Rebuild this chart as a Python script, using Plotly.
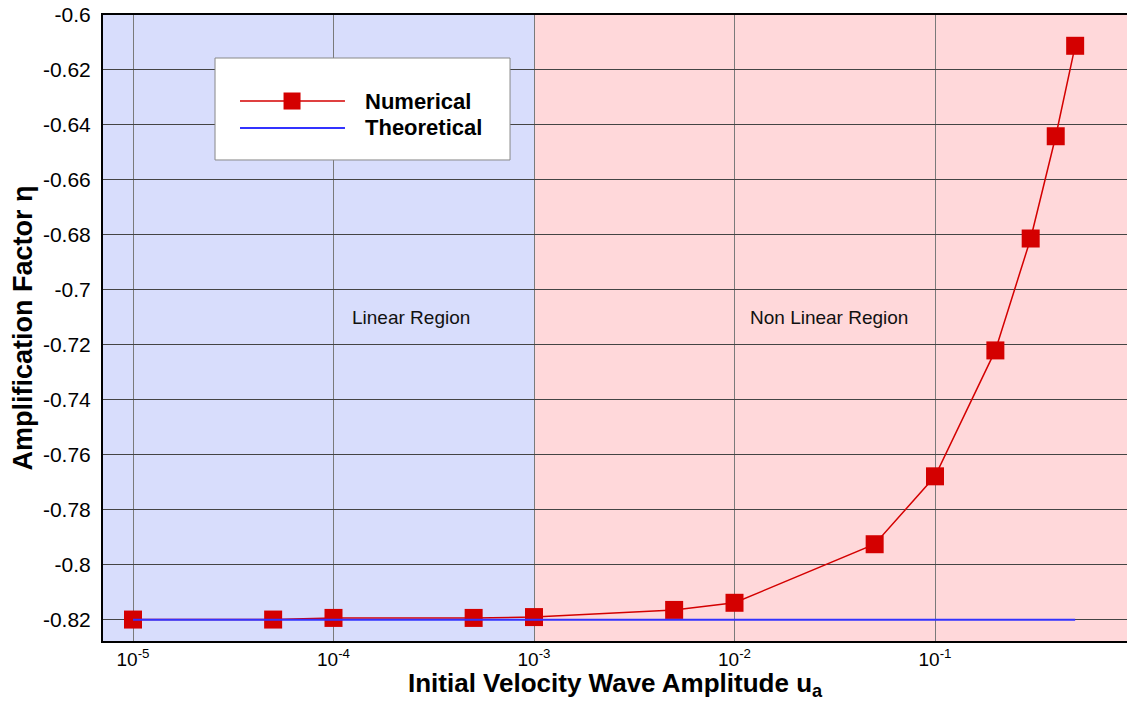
import plotly.graph_objects as go
import numpy as np

amplitude = [1e-5, 5e-5, 1e-4, 5e-4, 1e-3, 5e-3, 1e-2, 5e-2, 1e-1, 2e-1, 3e-1, 4e-1, 5e-1]
numerical = [-0.8199, -0.8199, -0.8193, -0.8193, -0.8190, -0.8164, -0.8138,
             -0.7925, -0.7678, -0.7220, -0.6813, -0.6441, -0.6112]
theory_x = [1e-5, 5e-1]
theoretical = [-0.82, -0.82]

x_tickvals = [1e-5, 1e-4, 1e-3, 1e-2, 1e-1]
x_ticktext = ["10<sup>-5</sup>", "10<sup>-4</sup>", "10<sup>-3</sup>", "10<sup>-2</sup>", "10<sup>-1</sup>"]
y_tickvals = [-0.6, -0.62, -0.64, -0.66, -0.68, -0.7, -0.72, -0.74, -0.76, -0.78, -0.8, -0.82]
y_ticktext = ["-0.6", "-0.62", "-0.64", "-0.66", "-0.68", "-0.7", "-0.72", "-0.74", "-0.76", "-0.78", "-0.8", "-0.82"]

series_names = ["Numerical", "Theoretical"]
linear_limit = 1e-3
xrange_log = [-5.1496, -0.0425]
yrange = [-0.8277, -0.6]

font = "Liberation Sans, Arial, sans-serif"
red = "#d40000"
blue = "#3333ff"

fig = go.Figure()
fig.add_trace(go.Scatter(
    x=amplitude, y=numerical, mode="lines+markers", name=series_names[0],
    line=dict(color=red, width=1.5),
    marker=dict(symbol="square", size=18, color=red),
))
fig.add_trace(go.Scatter(
    x=theory_x, y=theoretical, mode="lines", name=series_names[1],
    line=dict(color=blue, width=2),
))

# background regions
frac = (np.log10(linear_limit) - xrange_log[0]) / (xrange_log[1] - xrange_log[0])
fig.add_shape(type="rect", xref="paper", yref="paper", x0=0, x1=frac, y0=0, y1=1,
              fillcolor="#d8ddfc", line=dict(width=0), layer="below")
fig.add_shape(type="rect", xref="paper", yref="paper", x0=frac, x1=1, y0=0, y1=1,
              fillcolor="#ffd8da", line=dict(width=0), layer="below")

# region labels
fig.add_annotation(x=-3.613, y=-0.71, xref="x", yref="y", text="Linear Region",
                   showarrow=False, font=dict(family=font, size=19, color="#111"))
fig.add_annotation(x=-1.529, y=-0.71, xref="x", yref="y", text="Non Linear Region",
                   showarrow=False, font=dict(family=font, size=19, color="#111"))

# legend box (drawn manually to match the long line samples)
fig.add_shape(type="rect", xref="paper", yref="paper", x0=0.1094, x1=0.3975,
              y0=0.7684, y1=0.9313, fillcolor="white",
              line=dict(color="#888888", width=1), layer="above")
leg_y = [0.8626, 0.8195]
fig.add_shape(type="line", xref="paper", yref="paper", x0=0.1338, x1=0.2363,
              y0=leg_y[0], y1=leg_y[0], line=dict(color=red, width=1.5), layer="above")
fig.add_shape(type="rect", xref="paper", yref="paper", x0=0.1846 - 0.0083, x1=0.1846 + 0.0083,
              y0=leg_y[0] - 0.0136, y1=leg_y[0] + 0.0136, fillcolor=red,
              line=dict(width=0), layer="above")
fig.add_shape(type="line", xref="paper", yref="paper", x0=0.1338, x1=0.2363,
              y0=leg_y[1], y1=leg_y[1], line=dict(color=blue, width=2), layer="above")
for name, yy in zip(series_names, leg_y):
    fig.add_annotation(x=0.2539, y=yy, xref="paper", yref="paper", text=name,
                       showarrow=False, xanchor="left", yanchor="middle",
                       font=dict(family=font, size=22, color="black", weight="bold"))

# x-axis title placed as an annotation below the tick labels
fig.add_annotation(x=0.5, y=-0.042, xref="paper", yref="paper",
                   text="Initial Velocity Wave Amplitude u<sub>a</sub>",
                   showarrow=False, xanchor="center", yanchor="top", borderpad=0,
                   font=dict(family=font, size=26, color="black", weight="bold"))

fig.update_layout(
    width=1127, height=702,
    margin=dict(l=103, r=0, t=15, b=61),
    paper_bgcolor="white", plot_bgcolor="white",
    font=dict(family=font, size=20, color="black"),
    showlegend=False,
)
fig.update_xaxes(
    type="log", range=xrange_log, tickvals=x_tickvals, ticktext=x_ticktext,
    showgrid=True, gridcolor="#7a7a7a", gridwidth=1,
    showline=True, linecolor="black", linewidth=2, mirror=True,
    ticks="", zeroline=False, tickfont=dict(family=font, size=19, color="black"),
    ticklabelstandoff=0,
)
fig.update_yaxes(
    range=yrange, tickvals=y_tickvals, ticktext=y_ticktext,
    showgrid=True, gridcolor="#444444", gridwidth=1,
    showline=True, linecolor="black", linewidth=2, mirror=False,
    ticks="", zeroline=False, tickfont=dict(family=font, size=21, color="black"),
    ticklabelstandoff=6,
    title=dict(text="Amplification Factor η",
               font=dict(family=font, size=27, weight="bold"), standoff=2),
)

fig.write_html("out.html")
